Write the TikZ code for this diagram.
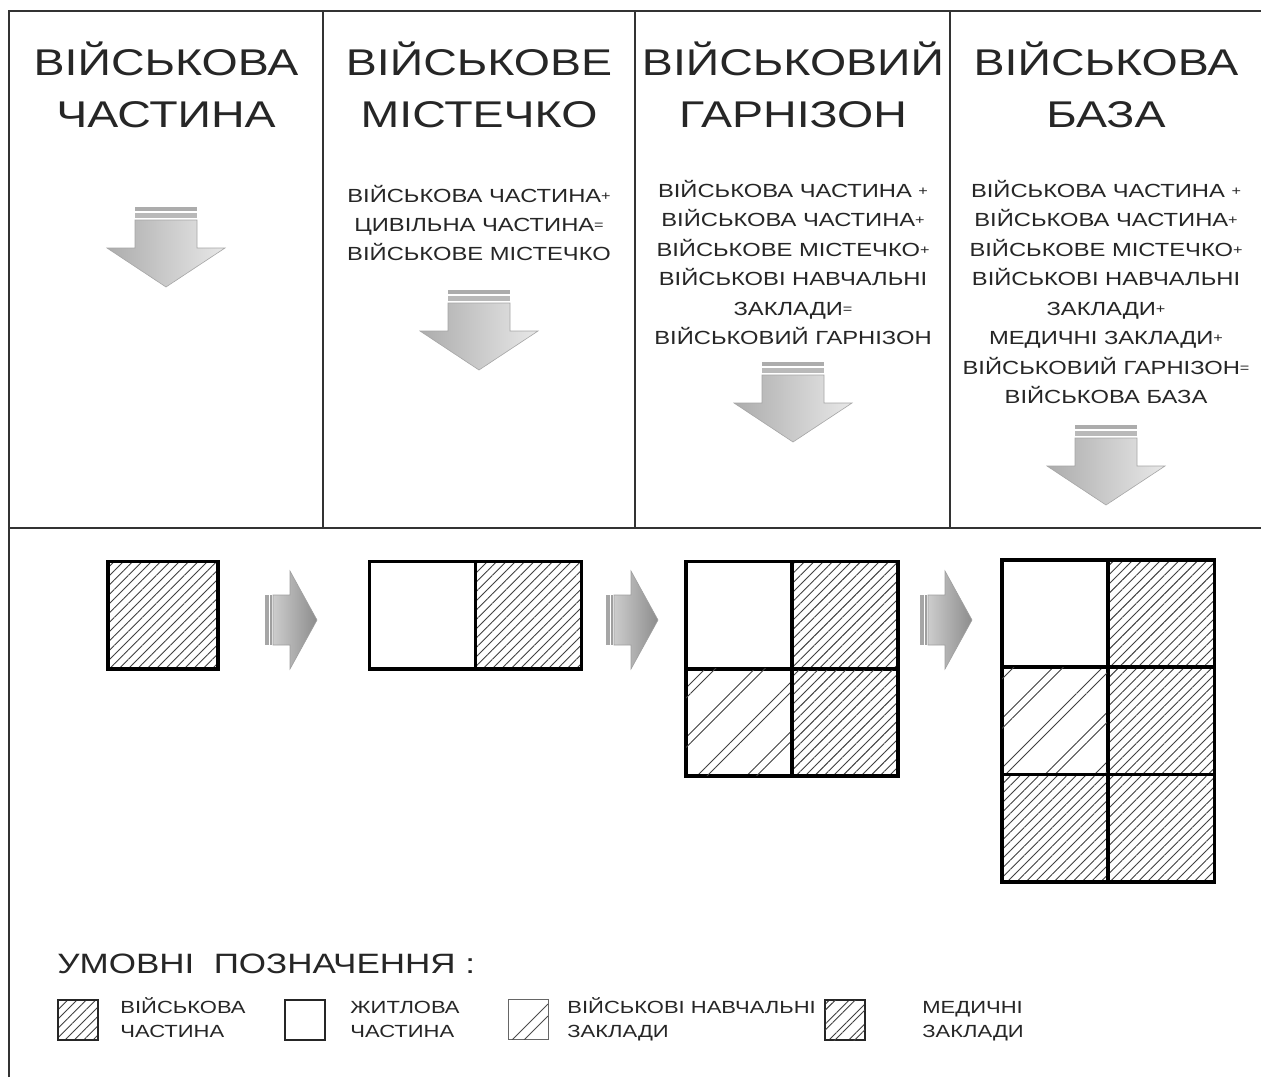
\documentclass[tikz,border=0pt]{standalone}
\usepackage{fontspec}
\setmainfont{Liberation Sans}[FakeStretch=1.25]
\usetikzlibrary{patterns.meta}
\newcommand\smp{\raisebox{0.1em}{\fontsize{6.5}{6.5}\selectfont +}}
\newcommand\sme{\raisebox{0.1em}{\fontsize{6.5}{6.5}\selectfont =}}
\tikzset{
  frameline/.style={line width=1pt, draw=black!80},
  titletext/.style={anchor=base, inner sep=0pt, text=black!85, font=\fontsize{18.6}{20}\selectfont},
  bodytext/.style={anchor=base, inner sep=0pt, text=black!85, font=\fontsize{9.5}{10}\selectfont},
  legtext/.style={anchor=base west, inner sep=0pt, text=black!85, font=\fontsize{8.8}{9}\selectfont},
  cell/.style={draw=black, line width=1.8pt, minimum width=53pt, minimum height=53.7pt, inner sep=0pt},
  dense/.style={pattern={Lines[angle=45,distance=3.3pt,line width=0.45pt]}, pattern color=black!75},
  sparse/.style={pattern={Lines[angle=45,distance=17.5pt,line width=0.45pt]}, pattern color=black!75,
    postaction={pattern={Lines[angle=45,distance=17.5pt,xshift=5pt,line width=0.45pt]}, pattern color=black!75}},
  medpat/.style={pattern={Lines[angle=45,distance=7pt,line width=0.45pt]}, pattern color=black!75,
    postaction={pattern={Lines[angle=45,distance=7pt,xshift=3pt,line width=0.45pt]}, pattern color=black!75}},
  legbox/.style={draw=black!85, line width=1pt, minimum size=20pt, inner sep=0pt},
  downarr/.pic={
    \fill[gray!65] (-31,0) rectangle (31,4);
    \fill[gray!55] (-31,6) rectangle (31,11);
    \shade[left color=gray!65, right color=gray!18, draw=gray!70, line width=0.3pt]
      (-31,13) -- (31,13) -- (31,41) -- (59,41) -- (0,80) -- (-59,41) -- (-31,41) -- cycle;
  },
  rightarr/.pic={
    \fill[gray!70] (0,-25) rectangle (4,25);
    \fill[gray!75] (5,-25) rectangle (7,25);
    \shade[left color=gray!40, right color=gray!90, draw=gray!75, line width=0.3pt]
      (8,-25) -- (25,-25) -- (25,-49) -- (52,0) -- (25,49) -- (25,25) -- (8,25) -- cycle;
  }
}
\begin{document}
\begin{tikzpicture}[x=0.5pt,y=-0.5pt]
\useasboundingbox (0,0) rectangle (1261,1077);
\fill[white] (0,0) rectangle (1261,1077);
% frame
\coordinate (ftl) at (9,11);
\coordinate (ftr) at (1261,11);
\coordinate (fbl) at (9,1077);
\coordinate (ml) at (9,528);
\coordinate (mr) at (1261,528);
\draw[frameline] (fbl) -- (ftl) -- (ftr);
\draw[frameline] (ml) -- (mr);
\foreach \x [count=\i] in {323,635,950} {
  \coordinate (vt\i) at (\x,11);
  \coordinate (vb\i) at (\x,528);
  \draw[frameline] (vt\i) -- (vb\i);
}
% titles
\node[titletext] (t1a) at (166,75) {ВІЙСЬКОВА};
\node[titletext] (t1b) at (166,127) {ЧАСТИНА};
\node[titletext] (t2a) at (479,75) {ВІЙСЬКОВЕ};
\node[titletext] (t2b) at (479,127) {МІСТЕЧКО};
\node[titletext] (t3a) at (793,75) {ВІЙСЬКОВИЙ};
\node[titletext] (t3b) at (793,127) {ГАРНІЗОН};
\node[titletext] (t4a) at (1106,75) {ВІЙСЬКОВА};
\node[titletext] (t4b) at (1106,127) {БАЗА};
% body texts
\foreach \t [count=\i] in {ВІЙСЬКОВА ЧАСТИНА\smp, ЦИВІЛЬНА ЧАСТИНА\sme, ВІЙСЬКОВЕ МІСТЕЧКО}
  \node[bodytext] (b2-\i) at (479,{202+29*(\i-1)}) {\t};
\foreach \t [count=\i] in {ВІЙСЬКОВА ЧАСТИНА \smp, ВІЙСЬКОВА ЧАСТИНА\smp, ВІЙСЬКОВЕ МІСТЕЧКО\smp, ВІЙСЬКОВІ НАВЧАЛЬНІ, ЗАКЛАДИ\sme, ВІЙСЬКОВИЙ ГАРНІЗОН}
  \node[bodytext] (b3-\i) at (793,{197+29.5*(\i-1)}) {\t};
\foreach \t [count=\i] in {ВІЙСЬКОВА ЧАСТИНА \smp, ВІЙСЬКОВА ЧАСТИНА\smp, ВІЙСЬКОВЕ МІСТЕЧКО\smp, ВІЙСЬКОВІ НАВЧАЛЬНІ, ЗАКЛАДИ\smp, МЕДИЧНІ ЗАКЛАДИ\smp, ВІЙСЬКОВИЙ ГАРНІЗОН\sme, ВІЙСЬКОВА БАЗА}
  \node[bodytext] (b4-\i) at (1106,{197+29.5*(\i-1)}) {\t};
% down arrows
\pic (da1) at (166,207) {downarr};
\pic (da2) at (479,290) {downarr};
\pic (da3) at (793,362) {downarr};
\pic (da4) at (1106,425) {downarr};
% right arrows
\pic (ra1) at (265,620) {rightarr};
\pic (ra2) at (606,620) {rightarr};
\pic (ra3) at (920,620) {rightarr};
% group 1
\node[cell, dense, minimum width=55pt] (g1) at (163,615) {};
% group 2
\node[cell] (g2l) at (422.5,615) {};
\node[cell, dense] (g2r) at (528.5,615) {};
% group 3
\node[cell] (g3tl) at (739,615) {};
\node[cell, dense] (g3tr) at (845,615) {};
\node[cell, sparse] (g3bl) at (739,722) {};
\node[cell, dense] (g3br) at (845,722) {};
% group 4
\node[cell] (g4tl) at (1055,613.5) {};
\node[cell, dense] (g4tr) at (1161.5,613.5) {};
\node[cell, sparse] (g4ml) at (1055,720.8) {};
\node[cell, dense] (g4mr) at (1161.5,720.8) {};
\node[cell, dense] (g4bl) at (1055,828) {};
\node[cell, dense] (g4br) at (1161.5,828) {};
% legend
\node[anchor=base west, inner sep=0pt, text=black!85, font=\fontsize{14}{15}\selectfont] (leghead) at (57,973) {УМОВНІ\ \ ПОЗНАЧЕННЯ :};
\node[legbox, dense] (lb1) at (78,1020) {};
\node[legbox] (lb2) at (305,1020) {};
\node[legbox, draw=black!60, line width=0.5pt] (lb3) at (528,1019) {};
\begin{scope}
  \clip (lb3.south west) rectangle (lb3.north east);
  \draw[black!70, line width=0.45pt] (512,1040) -- (548,1004);
  \draw[black!70, line width=0.45pt] (524,1040) -- (548,1016);
\end{scope}
\node[legbox, medpat] (lb4) at (845,1020) {};
\node[legtext] (lt1a) at (120,1013) {ВІЙСЬКОВА};
\node[legtext] (lt1b) at (120,1037) {ЧАСТИНА};
\node[legtext] (lt2a) at (350,1013) {ЖИТЛОВА};
\node[legtext] (lt2b) at (350,1037) {ЧАСТИНА};
\node[legtext] (lt3a) at (567,1013) {ВІЙСЬКОВІ НАВЧАЛЬНІ};
\node[legtext] (lt3b) at (567,1037) {ЗАКЛАДИ};
\node[legtext] (lt4a) at (922,1013) {МЕДИЧНІ};
\node[legtext] (lt4b) at (922,1037) {ЗАКЛАДИ};
\end{tikzpicture}
\end{document}
